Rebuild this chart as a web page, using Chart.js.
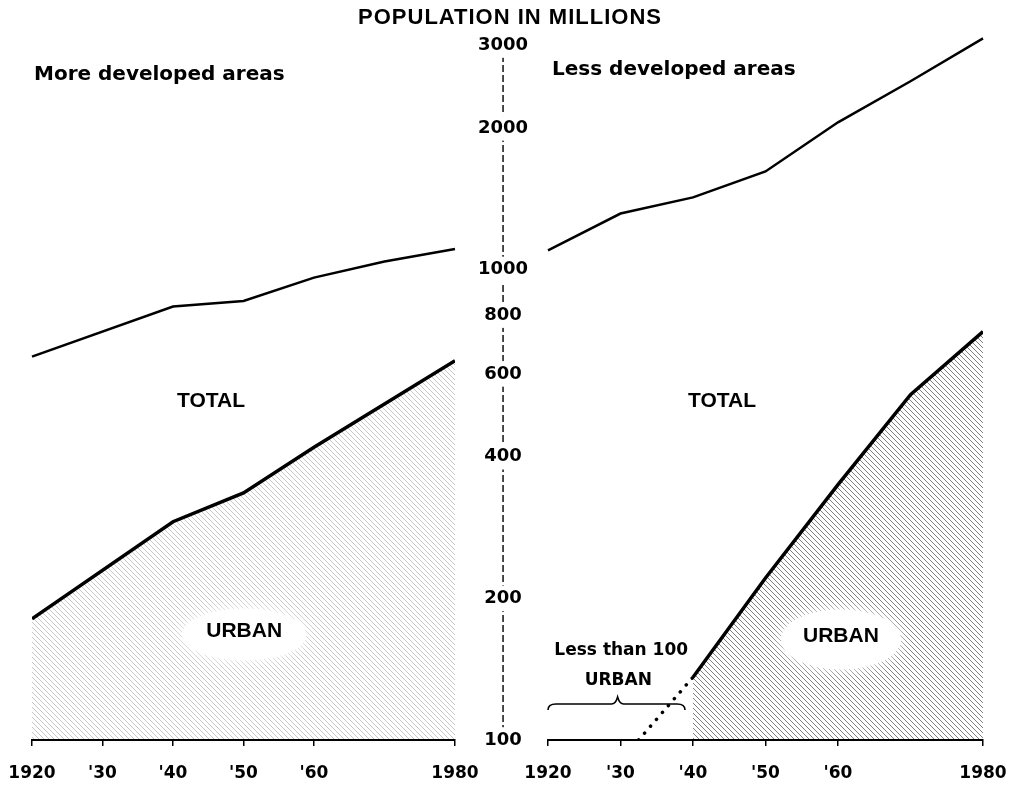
<!DOCTYPE html>
<html>
<head>
<meta charset="utf-8">
<script src="https://cdn.jsdelivr.net/npm/chart.js@4.4.1/dist/chart.umd.min.js"></script>
<style>
  body { margin: 0; background: #fff; }
  #wrap { position: relative; width: 1010px; height: 797px; overflow: hidden; }
  canvas { position: absolute; top: 0; }
  #more { left: 0; }
  #less { left: 520px; }
  .txt { position: absolute; color: #000; white-space: nowrap; }
  #title { left: 0; width: 1020px; top: 6px; text-align: center; font: bold 22px/22px "Liberation Sans"; letter-spacing: 1px; }
  #moreHead { left: 34px; top: 63px; font: bold 20px/20px "DejaVu Sans"; }
  #lessHead { left: 552px; top: 58px; font: bold 20px/20px "DejaVu Sans"; }
</style>
</head>
<body>
<div id="wrap">
  <canvas id="more" width="560" height="797"></canvas>
  <canvas id="less" width="490" height="797"></canvas>
  <div class="txt" id="title">POPULATION IN MILLIONS</div>
  <div class="txt" id="moreHead">More developed areas</div>
  <div class="txt" id="lessHead">Less developed areas</div>
</div>
<script>
// population in millions
const moreYears = [1920, 1940, 1950, 1960, 1970, 1980];
const moreTotal = [653, 834, 857, 961, 1040, 1106];
const moreUrbanYears = [1920, 1940, 1950, 1960, 1980];
const moreUrban = [181, 291, 335, 419, 640];

const lessYears = [1920, 1930, 1940, 1950, 1960, 1970, 1980];
const lessTotal = [1098, 1315, 1423, 1616, 2055, 2512, 3100];
const lessUrbanYears = [1940, 1950, 1960, 1970, 1980];
const lessUrban = [136, 221, 349, 542, 738];
// dotted part below 100
const lessDotYears = [1932.5, 1940];
const lessDotValues = [100, 136];

const yTicks = [100, 200, 400, 600, 800, 1000, 2000, 3000];
const xTicks = [1920, 1930, 1940, 1950, 1960, 1980];
const xTickLabels = ['1920', "'30", "'40", "'50", "'60", '1980'];

function pts(xs, ys) {
    return xs.map((x, i) => ({ x: x, y: ys[i] }));
}

function hatch(color, gap, width) {
    const c = document.createElement('canvas');
    c.width = gap; c.height = gap;
    const g = c.getContext('2d');
    g.strokeStyle = color;
    g.lineWidth = width;
    g.beginPath();
    g.moveTo(0, 0); g.lineTo(gap, gap);
    g.moveTo(-1, gap - 1); g.lineTo(1, gap + 1);
    g.moveTo(gap - 1, -1); g.lineTo(gap + 1, 1);
    g.stroke();
    return g.createPattern(c, 'repeat');
}

const tickFont = { family: 'DejaVu Sans', weight: 'bold', size: 18 };
// tall line height pushes the year labels down without widening the side padding
const yearFont = { family: 'DejaVu Sans', weight: 'bold', size: 17, lineHeight: 3.05 };

// text inside the plot, placed through the scales
const notes = {
    id: 'notes',
    afterDatasetsDraw(chart, args, opts) {
        const ctx = chart.ctx;
        const x = chart.scales.x, y = chart.scales.y;
        ctx.save();
        (opts.items || []).forEach(n => {
            const px = x.getPixelForValue(n.year);
            const py = y.getPixelForValue(n.value);
            if (n.halo) {
                ctx.save();
                ctx.fillStyle = '#fff';
                ctx.shadowColor = '#fff';
                ctx.shadowBlur = 14;
                ctx.beginPath();
                ctx.ellipse(px, py + 3, n.halo[0], n.halo[1], 0, 0, Math.PI * 2);
                ctx.fill();
                ctx.restore();
            }
            ctx.font = n.font;
            ctx.fillStyle = '#000';
            ctx.textAlign = 'center';
            ctx.textBaseline = 'middle';
            ctx.fillText(n.text, px, py);
        });
        if (opts.brace) {
            const b = opts.brace;
            const x0 = x.getPixelForValue(b.from), x1 = x.getPixelForValue(b.to);
            const xm = x.getPixelForValue(b.mid), by = y.getPixelForValue(b.value);
            ctx.strokeStyle = '#000';
            ctx.lineWidth = 1.6;
            ctx.beginPath();
            ctx.moveTo(x0, by + 6);
            ctx.quadraticCurveTo(x0, by, x0 + 8, by);
            ctx.lineTo(xm - 6, by);
            ctx.quadraticCurveTo(xm - 2, by, xm, by - 7);
            ctx.quadraticCurveTo(xm + 2, by, xm + 6, by);
            ctx.lineTo(x1 - 8, by);
            ctx.quadraticCurveTo(x1, by, x1, by + 6);
            ctx.stroke();
        }
        ctx.restore();
    }
};

// dashed vertical value axis between the two panels
const midAxis = {
    id: 'midAxis',
    beforeDraw(chart) {
        const s = chart.scales.y;
        if (!s.options.display) return;
        const ctx = chart.ctx;
        ctx.save();
        ctx.font = 'bold 18px "DejaVu Sans"';
        const cx = s.left + s.options.ticks.padding + ctx.measureText('3000').width / 2;
        ctx.strokeStyle = '#000';
        ctx.lineWidth = 1.4;
        ctx.setLineDash([7, 3]);
        ctx.beginPath();
        ctx.moveTo(cx, s.getPixelForValue(3000));
        ctx.lineTo(cx, s.getPixelForValue(100));
        ctx.stroke();
        ctx.restore();
    }
};

function xScale() {
    return {
        type: 'linear',
        min: 1920,
        max: 1980,
        afterBuildTicks: s => { s.ticks = xTicks.map(v => ({ value: v })); },
        afterFit: s => { s.height = 57; },
        grid: { drawOnChartArea: false, drawTicks: true, tickLength: 6, color: '#000', lineWidth: 1.5 },
        border: { display: true, color: '#000', width: 2 },
        ticks: {
            callback: (v, i) => xTickLabels[i],
            color: '#000',
            font: yearFont,
            padding: 2,
            maxRotation: 0,
            autoSkip: false
        }
    };
}

function yScale(show) {
    return {
        type: 'logarithmic',
        position: 'right',
        display: show,
        min: 100,
        max: 3000,
        afterBuildTicks: s => { s.ticks = yTicks.map(v => ({ value: v })); },
        afterFit: s => { s.width = show ? 105 : 0; },
        grid: { display: false, drawTicks: false },
        border: { display: false },
        ticks: {
            callback: v => String(v),
            color: '#000',
            font: tickFont,
            padding: 23,
            crossAlign: 'center',
            showLabelBackdrop: true,
            backdropColor: '#fff',
            backdropPadding: 2
        }
    };
}

const moreCtx = document.getElementById('more').getContext('2d');

const moreChart = new Chart(moreCtx, {
    type: 'line',
    data: {
        datasets: [{
            label: 'Urban',
            data: pts(moreUrbanYears, moreUrban),
            borderColor: '#000',
            borderWidth: 3.5,
            backgroundColor: hatch('rgba(0,0,0,0.22)', 5, 1),
            fill: 'start',
            pointRadius: 0,
            tension: 0
        }, {
            label: 'Total',
            data: pts(moreYears, moreTotal),
            borderColor: '#000',
            borderWidth: 2.5,
            fill: false,
            pointRadius: 0,
            tension: 0,
            clip: false
        }]
    },
    options: {
        responsive: false,
        animation: false,
        layout: { padding: { left: 32, right: 0, top: 45, bottom: 0 } },
        scales: { x: xScale(), y: yScale(true) },
        plugins: {
            legend: { display: false },
            tooltip: { enabled: false },
            notes: {
                items: [
                    { text: 'TOTAL', year: 1945.4, value: 526, font: 'bold 21px "Liberation Sans"' },
                    { text: 'URBAN', year: 1950.1, value: 170, font: 'bold 21px "Liberation Sans"', halo: [62, 26] }
                ]
            }
        }
    },
    plugins: [notes, midAxis]
});

const lessCtx = document.getElementById('less').getContext('2d');

const lessChart = new Chart(lessCtx, {
    type: 'line',
    data: {
        datasets: [{
            label: 'Urban',
            data: pts(lessUrbanYears, lessUrban),
            borderColor: '#000',
            borderWidth: 3.5,
            backgroundColor: hatch('rgba(0,0,0,0.5)', 5, 1),
            fill: 'start',
            pointRadius: 0,
            tension: 0
        }, {
            label: 'Urban below 100',
            data: pts(lessDotYears, lessDotValues),
            borderColor: '#000',
            borderWidth: 3.5,
            borderDash: [0.1, 9],
            borderCapStyle: 'round',
            fill: false,
            pointRadius: 0
        }, {
            label: 'Total',
            data: pts(lessYears, lessTotal),
            borderColor: '#000',
            borderWidth: 2.5,
            fill: false,
            pointRadius: 0,
            tension: 0,
            clip: false
        }]
    },
    options: {
        responsive: false,
        animation: false,
        layout: { padding: { left: 28, right: 27, top: 45, bottom: 0 } },
        scales: { x: xScale(), y: yScale(false) },
        plugins: {
            legend: { display: false },
            tooltip: { enabled: false },
            notes: {
                items: [
                    { text: 'TOTAL', year: 1944, value: 524, font: 'bold 21px "Liberation Sans"' },
                    { text: 'URBAN', year: 1960.4, value: 166, font: 'bold 21px "Liberation Sans"', halo: [60, 30] },
                    { text: 'Less than 100', year: 1930.1, value: 155, font: 'bold 17px "DejaVu Sans"' },
                    { text: 'URBAN', year: 1929.7, value: 134, font: 'bold 17px "DejaVu Sans"' }
                ],
                brace: { from: 1920, to: 1938.9, mid: 1929.6, value: 119.3 }
            }
        }
    },
    plugins: [notes]
});
</script>
</body>
</html>
